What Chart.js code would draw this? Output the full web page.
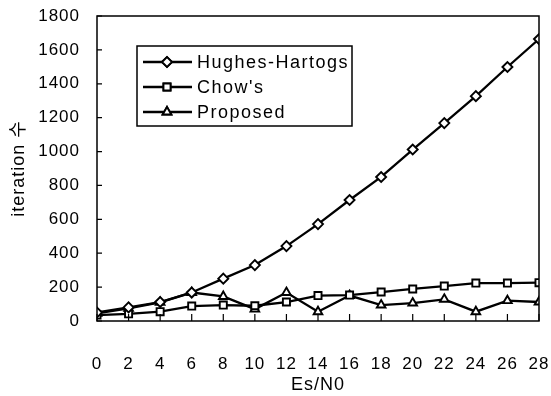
<!DOCTYPE html>
<html>
<head>
<meta charset="utf-8">
<script src="https://cdn.jsdelivr.net/npm/chart.js@4/dist/chart.umd.min.js"></script>
<style>
  html, body { margin: 0; padding: 0; background: #fff; }
  #wrap { width: 551px; height: 396px; }
</style>
</head>
<body>
<div id="wrap"><canvas id="c" width="551" height="396"></canvas></div>
<script>
const esn0 = [0, 2, 4, 6, 8, 10, 12, 14, 16, 18, 20, 22, 24, 26, 28];
const hughes = [50, 80, 112, 168, 250, 330, 442, 572, 714, 850, 1012, 1168, 1327, 1499, 1664];
const chows = [35, 42, 55, 88, 94, 90, 112, 150, 153, 171, 189, 206, 224, 224, 226];
const proposed = [45, 75, 110, 168, 145, 70, 168, 55, 150, 94, 106, 128, 55, 120, 112];
const seriesNames = ['Hughes-Hartogs', "Chow's", 'Proposed'];

const FONT = "'Liberation Sans', Arial, 'Noto Sans CJK KR', sans-serif";
const pts = ys => esn0.map((x, i) => ({ x, y: ys[i] }));

const ds = (label, ys, style) => ({
  label, data: pts(ys), borderColor: '#000', backgroundColor: '#fff',
  borderWidth: 2.3, pointStyle: style, pointRadius: 5, pointBorderWidth: 1.9,
  pointBackgroundColor: '#fff', pointBorderColor: '#000', tension: 0,
});

// box around the plot plus short inward ticks
const frame = {
  id: 'frame',
  beforeDraw(chart) { chart.ctx.letterSpacing = '1px'; },
  afterDatasetsDraw(chart) {
    const { ctx, chartArea: a, scales: { x, y } } = chart;
    ctx.save();
    ctx.strokeStyle = '#000';
    ctx.lineWidth = 1.5;
    ctx.strokeRect(a.left, a.top, a.right - a.left, a.bottom - a.top);
    ctx.lineWidth = 1.2;
    ctx.beginPath();
    for (const t of y.ticks) {
      const p = y.getPixelForValue(t.value);
      ctx.moveTo(a.left, p); ctx.lineTo(a.left + 5, p);
    }
    for (const t of x.ticks) {
      const p = x.getPixelForValue(t.value);
      ctx.moveTo(p, a.bottom); ctx.lineTo(p, a.bottom - 7);
    }
    ctx.stroke();
    ctx.restore();
  }
};

// legend box inside the plot, top-left
const boxLegend = {
  id: 'boxLegend',
  afterDraw(chart) {
    const { ctx, chartArea: a } = chart;
    const L = a.left + 40, T = a.top + 30, W = 215, H = 80;
    ctx.save();
    ctx.fillStyle = '#fff';
    ctx.fillRect(L, T, W, H);
    ctx.strokeStyle = '#000';
    ctx.lineWidth = 1.5;
    ctx.strokeRect(L, T, W, H);
    ctx.font = '18px ' + FONT;
    ctx.letterSpacing = '1.5px';
    ctx.textBaseline = 'middle';
    chart.data.datasets.forEach((d, i) => {
      const yy = T + 16 + i * 25;
      ctx.strokeStyle = '#000';
      ctx.lineWidth = 2.3;
      ctx.beginPath(); ctx.moveTo(L + 6, yy); ctx.lineTo(L + 55, yy); ctx.stroke();
      ctx.fillStyle = '#fff';
      ctx.lineWidth = 1.9;
      Chart.helpers.drawPoint(ctx, { pointStyle: d.pointStyle, radius: 5, borderWidth: 1.9 }, L + 30, yy);
      ctx.fill(); ctx.stroke();
      ctx.fillStyle = '#000';
      ctx.fillText(seriesNames[i], L + 60, yy + 1);
    });
    ctx.restore();
  }
};

new Chart(document.getElementById('c'), {
  type: 'line',
  data: { datasets: [
    ds(seriesNames[0], hughes, 'rectRot'),
    ds(seriesNames[1], chows, 'rect'),
    ds(seriesNames[2], proposed, 'triangle'),
  ]},
  options: {
    responsive: false, animation: false,
    layout: { padding: { left: 0, right: 12, top: 16, bottom: 0 } },
    plugins: { legend: { display: false }, tooltip: { enabled: false } },
    scales: {
      x: {
        type: 'linear', min: 0, max: 28,
        afterFit: s => { s.height = 75; s.paddingLeft = 0; s.paddingRight = 0; },
        ticks: { stepSize: 2, padding: 33, color: '#000', font: { family: FONT, size: 17 } },
        grid: { display: false, drawTicks: false },
        border: { display: false },
        title: { display: true, text: 'Es/N0', color: '#000', padding: { top: 0, bottom: 0 },
                 font: { family: FONT, size: 18 } },
      },
      y: {
        min: 0, max: 1800,
        afterFit: s => { s.width = 97; s.paddingTop = 0; s.paddingBottom = 0; },
        ticks: { stepSize: 200, padding: 17, color: '#000', font: { family: FONT, size: 17 },
                 callback: v => String(v) },
        grid: { display: false, drawTicks: false },
        border: { display: false },
        title: { display: true, text: 'iteration 수', color: '#000', padding: { top: 8, bottom: 0 },
                 font: { family: FONT, size: 18 } },
      },
    },
  },
  plugins: [frame, boxLegend],
});
</script>
</body>
</html>
